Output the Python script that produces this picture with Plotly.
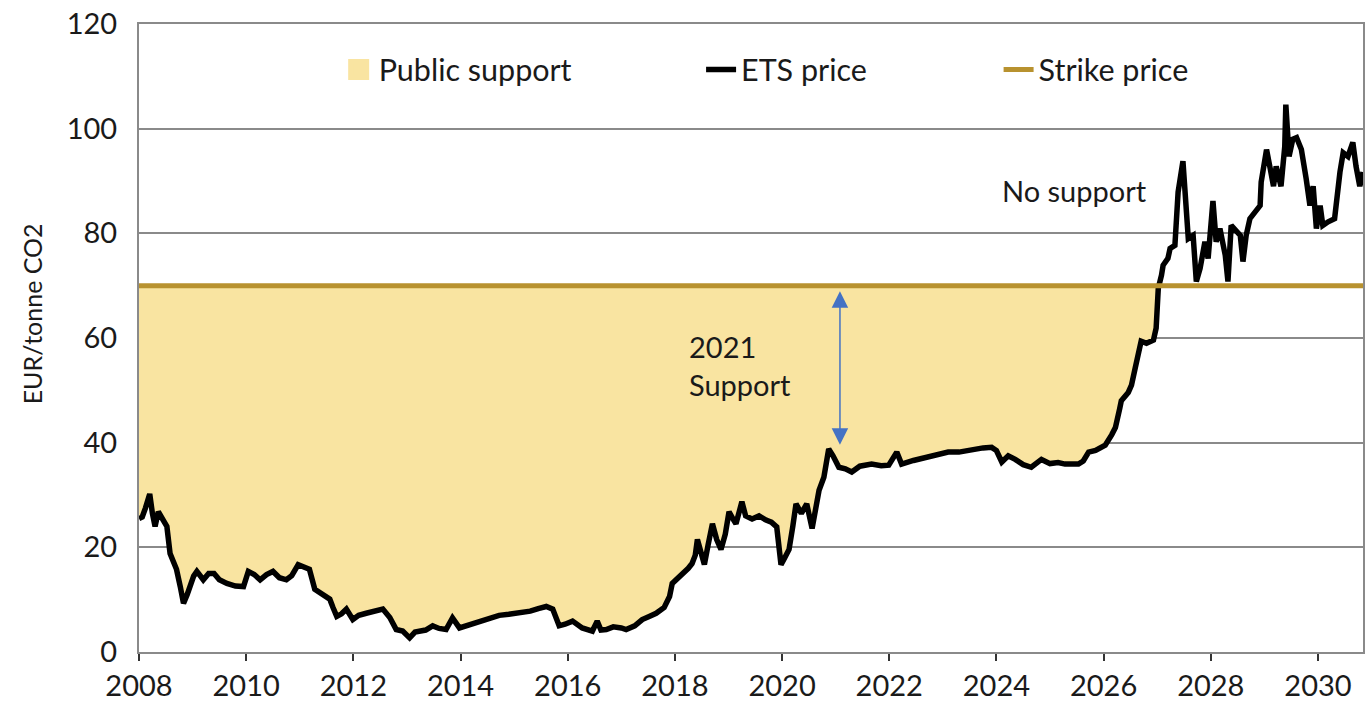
import numpy as np
import plotly.graph_objects as go

# ---------------- data ----------------
ets_year = [
    2008.00, 2008.06, 2008.12, 2008.20, 2008.25, 2008.30, 2008.36, 2008.44, 2008.52, 2008.58,
    2008.64, 2008.70, 2008.77, 2008.83, 2008.90, 2008.95, 2009.02, 2009.08, 2009.20, 2009.30,
    2009.40, 2009.50, 2009.64, 2009.80, 2009.95, 2010.04, 2010.15, 2010.26, 2010.38, 2010.50,
    2010.62, 2010.75, 2010.85, 2010.97, 2011.10, 2011.18, 2011.28, 2011.40, 2011.50, 2011.56,
    2011.62, 2011.69, 2011.78, 2011.87, 2011.99, 2012.10, 2012.24, 2012.38, 2012.55, 2012.68,
    2012.80, 2012.92, 2013.05, 2013.15, 2013.23, 2013.35, 2013.48, 2013.60, 2013.73, 2013.85,
    2013.98, 2014.20, 2014.40, 2014.60, 2014.72, 2014.90, 2015.04, 2015.30, 2015.45, 2015.60,
    2015.72, 2015.84, 2015.95, 2016.09, 2016.27, 2016.46, 2016.55, 2016.62, 2016.72, 2016.85,
    2017.00, 2017.09, 2017.25, 2017.39, 2017.52, 2017.65, 2017.80, 2017.90, 2017.95, 2018.05,
    2018.14, 2018.25, 2018.32, 2018.38, 2018.42, 2018.48, 2018.55, 2018.62, 2018.70, 2018.78,
    2018.86, 2018.94, 2019.01, 2019.08, 2019.14, 2019.25, 2019.32, 2019.44, 2019.57, 2019.70,
    2019.80, 2019.90, 2019.98, 2020.05, 2020.13, 2020.20, 2020.26, 2020.36, 2020.46, 2020.56,
    2020.62, 2020.69, 2020.78, 2020.87, 2020.95, 2021.06, 2021.18, 2021.30, 2021.45, 2021.67,
    2021.85, 2021.99, 2022.14, 2022.23, 2022.45, 2022.68, 2022.90, 2023.10, 2023.30, 2023.54,
    2023.75, 2023.91, 2024.00, 2024.10, 2024.22, 2024.35, 2024.50, 2024.65, 2024.84, 2025.00,
    2025.15, 2025.28, 2025.53, 2025.62, 2025.72, 2025.85, 2026.03, 2026.15, 2026.22, 2026.30,
    2026.33, 2026.46, 2026.52, 2026.59, 2026.65, 2026.70, 2026.80, 2026.93, 2026.98, 2027.02,
    2027.08, 2027.11, 2027.20, 2027.24, 2027.33, 2027.39, 2027.48, 2027.52, 2027.58, 2027.67,
    2027.73, 2027.80, 2027.89, 2027.95, 2028.04, 2028.10, 2028.17, 2028.27, 2028.32, 2028.38,
    2028.47, 2028.55, 2028.60, 2028.66, 2028.73, 2028.83, 2028.92, 2028.94, 2029.04, 2029.11,
    2029.17, 2029.22, 2029.31, 2029.38, 2029.40, 2029.46, 2029.53, 2029.60, 2029.69, 2029.78,
    2029.85, 2029.91, 2029.97, 2030.04, 2030.09, 2030.19, 2030.31, 2030.41, 2030.47, 2030.56,
    2030.65, 2030.71, 2030.78, 2030.84,
]
ets_price = [
    25.5, 25.8, 27.5, 30.2, 26.5, 24.0, 26.8, 25.5, 24.0, 18.8,
    17.0, 15.8, 12.5, 9.3, 11.0, 12.5, 14.5, 15.4, 13.8, 15.0,
    15.0, 13.8, 13.1, 12.6, 12.5, 15.4, 14.8, 13.8, 14.8, 15.4,
    14.2, 13.8, 14.6, 16.7, 16.3, 15.8, 12.0, 11.2, 10.3, 10.1,
    8.5, 6.8, 7.3, 8.2, 6.2, 7.0, 7.4, 7.8, 8.2, 6.6,
    4.3, 4.0, 2.7, 3.8, 4.0, 4.2, 5.0, 4.5, 4.3, 6.5,
    4.6, 5.3, 6.2, 6.8, 7.0, 7.2, 7.4, 7.8, 8.3, 8.7,
    8.2, 5.0, 5.3, 5.9, 4.6, 4.0, 5.9, 4.2, 4.3, 4.8,
    4.6, 4.3, 5.0, 6.2, 6.8, 7.4, 8.5, 10.6, 13.1, 14.0,
    15.0, 16.0, 16.9, 18.5, 21.5, 19.5, 16.7, 20.5, 24.5, 21.5,
    19.6, 22.5, 26.8, 25.5, 24.5, 28.7, 26.0, 25.4, 26.0, 25.2,
    24.8, 23.9, 16.7, 18.0, 19.6, 24.0, 28.3, 26.5, 28.3, 23.6,
    27.0, 30.9, 33.4, 38.8, 37.5, 35.3, 35.0, 34.4, 35.5, 35.9,
    35.6, 35.7, 38.2, 35.9, 36.6, 37.2, 37.8, 38.2, 38.2, 38.7,
    39.0, 39.1, 38.5, 36.3, 37.5, 36.8, 35.8, 35.3, 36.8, 36.0,
    36.2, 35.9, 35.9, 36.5, 38.2, 38.5, 39.5, 41.5, 42.9, 46.5,
    48.0, 49.6, 51.0, 54.3, 57.5, 59.4, 59.0, 59.6, 61.9, 69.5,
    72.0, 73.9, 75.2, 77.1, 77.7, 87.9, 93.8, 86.0, 79.0, 79.6,
    70.8, 73.3, 78.4, 75.2, 86.2, 78.4, 80.9, 75.8, 70.8, 81.5,
    80.3, 79.6, 74.6, 79.6, 82.8, 84.1, 85.3, 89.8, 96.0, 92.3,
    89.0, 92.8, 89.0, 96.6, 104.6, 94.7, 98.0, 98.3, 96.0, 90.4,
    85.3, 89.0, 80.9, 85.3, 81.5, 82.2, 82.8, 91.7, 95.4, 94.7,
    97.4, 92.8, 89.0, 91.7,
]
strike_price = 70.0
year_ticks = [2008, 2010, 2012, 2014, 2016, 2018, 2020, 2022, 2024, 2026, 2028, 2030]
price_ticks = [0, 20, 40, 60, 80, 100, 120]

# ---------------- styles ----------------
FONT = "Lato"
YELLOW = "#F9E4A1"
GOLD = "#B8922F"
BLACK = "#000000"
GRID = "#8a8a8a"
BLUE = "#4472C4"
TXT = "#1a1a1a"

x_min, x_max = 2008.0, 2030.84
ets = np.array(ets_price)
strike_series = np.full(len(ets_year), strike_price)
support_edge = np.minimum(ets, strike_price)

fig = go.Figure()

# base at strike level (invisible) for the fill
fig.add_trace(go.Scatter(
    x=ets_year, y=strike_series, mode="lines", line=dict(width=0, color=YELLOW),
    showlegend=False, hoverinfo="skip"))
# public support fill between ETS price and strike
fig.add_trace(go.Scatter(
    x=ets_year, y=support_edge, mode="lines", line=dict(width=0, color=YELLOW),
    fill="tonexty", fillcolor=YELLOW, showlegend=False, hoverinfo="skip"))
# legend entry for public support
fig.add_trace(go.Scatter(
    x=[None], y=[None], mode="markers", name="Public support",
    marker=dict(symbol="square", size=16, color=YELLOW, line=dict(width=5, color=YELLOW)),
    legend="legend"))
# ETS price
fig.add_trace(go.Scatter(
    x=ets_year, y=ets_price, mode="lines", name="ETS price",
    line=dict(color=BLACK, width=5.5), legend="legend2"))
# Strike price
fig.add_trace(go.Scatter(
    x=[x_min, x_max], y=[strike_price, strike_price], mode="lines", name="Strike price",
    line=dict(color=GOLD, width=5), legend="legend3"))

plot_l, plot_r, plot_t, plot_b = 139, 3, 24, 49
W, H = 1368, 705
pw = W - plot_l - plot_r
ph = H - plot_t - plot_b

def px_x(p):
    return (p - plot_l) / pw

def px_y(p):
    return (H - plot_b - p) / ph

legend_common = dict(
    orientation="h", yanchor="middle", xanchor="left",
    font=dict(family=FONT, size=30.5, color=TXT), bgcolor="rgba(0,0,0,0)",
    itemwidth=30,
)

fig.update_layout(
    width=W, height=H,
    margin=dict(l=plot_l, r=plot_r, t=plot_t, b=plot_b),
    paper_bgcolor="white", plot_bgcolor="white",
    font=dict(family=FONT, size=30, color=TXT),
    legend=dict(x=px_x(339), y=px_y(70), **legend_common),
    legend2=dict(x=px_x(702), y=px_y(70), **legend_common),
    legend3=dict(x=px_x(1000), y=px_y(70), **legend_common),
    xaxis=dict(
        range=[x_min, x_max], tickmode="array", tickvals=year_ticks,
        ticktext=[str(t) for t in year_ticks],
        showgrid=False, zeroline=False,
        showline=True, linecolor=GRID, linewidth=2, mirror=True,
        ticks="outside", ticklen=7, tickwidth=1.5, tickcolor="#333333",
        tickfont=dict(family=FONT, size=29, color=TXT),
    ),
    yaxis=dict(
        range=[0, 120], tickmode="array", tickvals=price_ticks,
        showgrid=True, gridcolor=GRID, gridwidth=1.5, zeroline=False,
        showline=True, linecolor=GRID, linewidth=2, mirror=True,
        ticks="", ticklabelstandoff=14,
        tickfont=dict(family=FONT, size=29, color=TXT),
    ),
    showlegend=True,
)

fig.add_annotation(
    text="EUR/tonne CO2", xref="paper", yref="paper",
    x=px_x(32), y=px_y(316), textangle=-90, showarrow=False,
    font=dict(family=FONT, size=25, color=TXT), xanchor="center", yanchor="middle")

fig.add_annotation(
    text="No support", xref="x", yref="y", x=2025.45, y=88.1, showarrow=False,
    font=dict(family=FONT, size=29, color=TXT), xanchor="center", yanchor="middle")

fig.add_annotation(
    text="2021<br>Support", xref="x", yref="y", x=2018.22, y=54.7, showarrow=False,
    align="left", font=dict(family=FONT, size=29, color=TXT), xanchor="left", yanchor="middle")

fig.add_annotation(
    x=2021.08, y=39.6, ax=2021.08, ay=69.2, xref="x", yref="y", axref="x", ayref="y",
    text="", showarrow=True, arrowhead=2, startarrowhead=2, arrowside="end+start",
    arrowsize=2.2, startarrowsize=2.2, arrowwidth=1.5, arrowcolor=BLUE)

fig.write_html("out.html")
